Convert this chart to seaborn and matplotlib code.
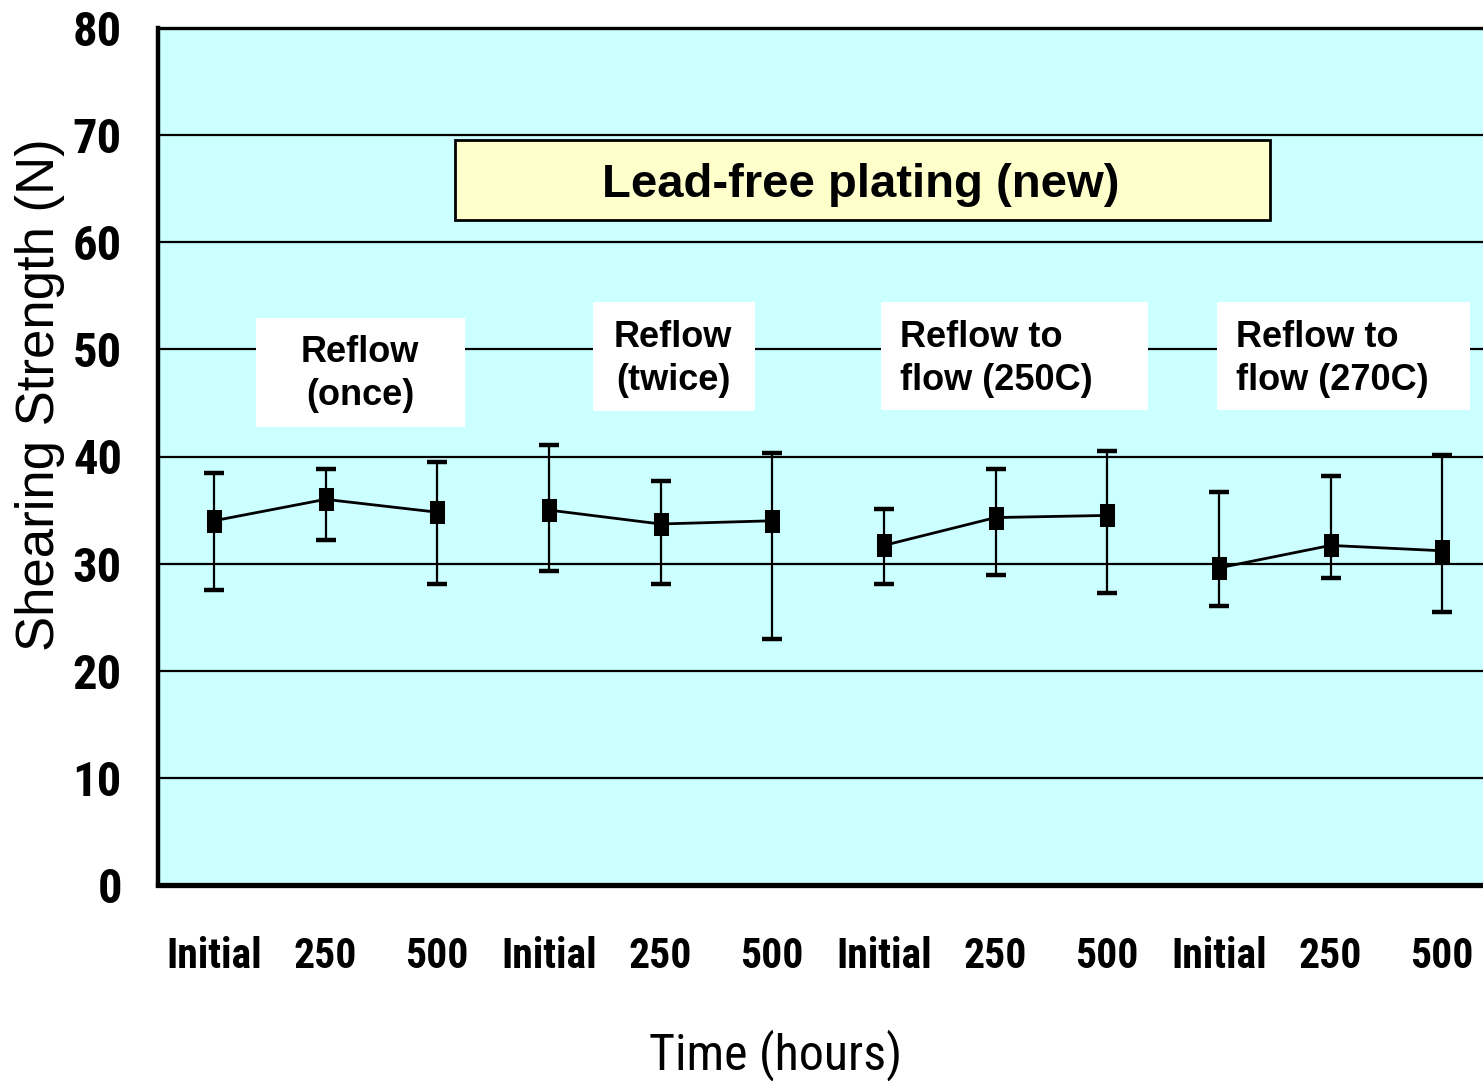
import matplotlib
matplotlib.use("Agg")
import matplotlib.pyplot as plt
from matplotlib.patches import Rectangle
from matplotlib import font_manager as fm
import seaborn as sns
import pandas as pd
import numpy as np

# ---- data ----
time_labels = ["Initial", "250", "500"] * 4
groups = ["Reflow (once)"] * 3 + ["Reflow (twice)"] * 3 + ["Reflow to flow (250C)"] * 3 + ["Reflow to flow (270C)"] * 3
means = [34.0, 36.0, 34.8, 35.0, 33.7, 34.0, 31.7, 34.3, 34.5, 29.6, 31.7, 31.2]
upper = [38.5, 38.8, 39.5, 41.1, 37.7, 40.3, 35.1, 38.8, 40.5, 36.7, 38.2, 40.1]
lower = [27.5, 32.2, 28.1, 29.3, 28.1, 23.0, 28.1, 28.9, 27.3, 26.0, 28.7, 25.5]
y_ticks = [0, 10, 20, 30, 40, 50, 60, 70, 80]

df = pd.DataFrame({"pos": np.arange(len(means)), "mean": means, "group": groups,
                   "lo": lower, "hi": upper})

sns.set_theme(style="white")
plt.rcParams["font.family"] = ["Liberation Sans", "DejaVu Sans"]
for k in ["text.color", "axes.labelcolor", "xtick.color", "ytick.color", "axes.edgecolor"]:
    plt.rcParams[k] = "black"

# look for a condensed / narrow sans face
narrow_fam = None
names = {f.name for f in fm.fontManager.ttflist}
for cand in ["Liberation Sans Narrow", "Arial Narrow", "Roboto Condensed", "Open Sans Condensed",
             "DejaVu Sans Condensed", "Noto Sans Condensed"]:
    if cand in names:
        narrow_fam = cand
        break
if narrow_fam is None:
    for f in fm.fontManager.ttflist:
        if ("Sans" in f.name) and str(f.stretch) in ("condensed", "semi-condensed", "extra-condensed"):
            narrow_fam = f.name
            break
if narrow_fam is not None:
    NARROW = dict(family=[narrow_fam, "Liberation Sans"])
    ytick_fs, xtick_fs, xlab_fs = 35, 30, 36
else:
    NARROW = dict(family=["Liberation Sans"])
    ytick_fs, xtick_fs, xlab_fs = 33, 26, 32

W, H = 1483, 1081
fig = plt.figure(figsize=(W / 100, H / 100), dpi=100)
L, B, T = 158, 885, 28
cat_w = 111.67
ax = fig.add_axes([L / W, 1 - B / H, 12 * cat_w / W, (B - T) / H])
ax.set_facecolor("#CCFFFF")

# error bars
ax.errorbar(df["pos"], df["mean"],
            yerr=[df["mean"] - df["lo"], df["hi"] - df["mean"]],
            fmt="none", ecolor="black", elinewidth=1.6, capsize=7, capthick=3.2, zorder=4)

# lines + markers
rect_marker = [(-0.62, -1), (0.62, -1), (0.62, 1), (-0.62, 1), (-0.62, -1)]
sns.lineplot(data=df, x="pos", y="mean", units="group", estimator=None,
             color="black", linewidth=2.0, marker=rect_marker, markersize=16,
             markeredgecolor="black", markerfacecolor="black", ax=ax, zorder=5,
             legend=False)

ax.set_xlim(-0.5, 11.5)
ax.set_ylim(0, 80)
ax.set_yticks(y_ticks)
ax.set_yticklabels([str(v) for v in y_ticks], fontsize=ytick_fs, fontweight="bold", **NARROW)
ax.set_xticks(df["pos"])
ax.set_xticklabels(time_labels, fontsize=xtick_fs, fontweight="bold", **NARROW)
ax.set_xticks(np.arange(0.5, 11, 1.0), minor=True)
ax.tick_params(axis="x", which="major", length=0, pad=37, colors="black")
ax.tick_params(axis="x", which="minor", direction="in", length=10, width=1.5, color="black")
ax.tick_params(axis="y", length=0, pad=26, colors="black")
ax.set_xlabel("")
ax.set_ylabel("")

ax.grid(False)
for v in y_ticks[1:-1]:
    ax.axhline(v, color="black", linewidth=1.6, zorder=1)

for side, lw in [("left", 3.2), ("bottom", 3.8), ("top", 2.4), ("right", 2.4)]:
    ax.spines[side].set_color("black")
    ax.spines[side].set_linewidth(lw)

# annotation boxes
def px2x(px):
    return (px - L) / cat_w - 0.5

def py2y(py):
    return (B - py) / ((B - T) / 80)

ax.add_patch(Rectangle((px2x(455), py2y(220)), px2x(1270) - px2x(455), py2y(140) - py2y(220),
                       facecolor="#FFFFCC", edgecolor="black", linewidth=2, zorder=3))
ax.text(px2x(861), py2y(185), "Lead-free plating (new)", fontsize=34, fontweight="bold",
        color="black", ha="center", va="center", zorder=6)

boxes = [
    ((256, 318, 465, 427), "Reflow\n(once)", "center", 360, 374),
    ((593, 302, 755, 411), "Reflow\n(twice)", "center", 673, 359),
    ((881, 302, 1148, 410), "Reflow to\nflow (250C)", "left", 900, 359),
    ((1217, 302, 1470, 410), "Reflow to\nflow (270C)", "left", 1236, 359),
]
for (x0, y0, x1, y1), txt, ha, tx, ty in boxes:
    ax.add_patch(Rectangle((px2x(x0), py2y(y1)), px2x(x1) - px2x(x0), py2y(y0) - py2y(y1),
                           facecolor="white", edgecolor="none", zorder=3))
    ax.text(px2x(tx), py2y(ty), txt, fontsize=26, fontweight="bold", ha=ha, va="center",
            color="black", linespacing=1.3, multialignment=ha, zorder=6)

fig.text(40 / W, 1 - 395 / H, "Shearing Strength (N)", rotation=90, ha="center", va="center",
         fontsize=38, color="black")
fig.text(776 / W, 1 - 1055 / H, "Time (hours)", ha="center", va="center", fontsize=xlab_fs,
         color="black", **NARROW)

fig.savefig("out.png", dpi=100)
